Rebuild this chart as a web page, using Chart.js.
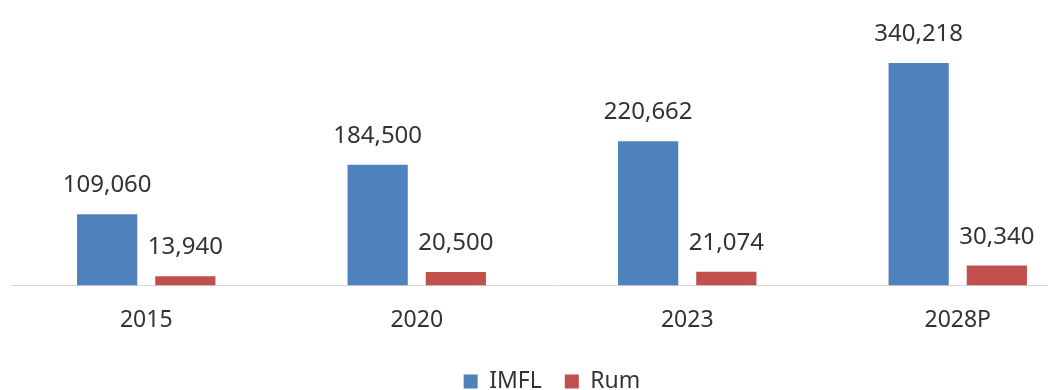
<!DOCTYPE html>
<html>
<head>
<meta charset="utf-8">
<script src="https://cdn.jsdelivr.net/npm/chart.js@4.4.1/dist/chart.umd.min.js"></script>
<style>
  html, body { margin: 0; padding: 0; background: #fff; overflow: hidden; }
  #wrap { position: relative; width: 1100px; height: 403px; }
</style>
</head>
<body>
<div id="wrap"><canvas id="chart"></canvas></div>
<script>
var years = ["2015", "2020", "2023", "2028P"];
var imfl = [109060, 184500, 220662, 340218];
var rum = [13940, 20500, 21074, 30340];

var textColor = "#333333";
var fontFamily = "'Noto Sans', 'Open Sans', sans-serif";

// writes each bar's value above it
var valueLabels = {
    id: "valueLabels",
    afterDatasetsDraw: function (chart) {
        var ctx = chart.ctx;
        ctx.save();
        ctx.font = "24px " + fontFamily;
        ctx.fillStyle = textColor;
        ctx.textAlign = "center";
        ctx.textBaseline = "alphabetic";
        chart.data.datasets.forEach(function (ds, i) {
            chart.getDatasetMeta(i).data.forEach(function (bar, j) {
                ctx.fillText(ds.data[j].toLocaleString("en-US"), bar.x, bar.y - 22);
            });
        });
        ctx.restore();
    }
};

new Chart(document.getElementById("chart"), {
    type: "bar",
    data: {
        labels: years,
        datasets: [
            { label: "IMFL", data: imfl, backgroundColor: "#4F81BD", categoryPercentage: 0.578, barPercentage: 0.77 },
            { label: "Rum", data: rum, backgroundColor: "#C0504D", categoryPercentage: 0.578, barPercentage: 0.77 }
        ]
    },
    options: {
        responsive: true,
        maintainAspectRatio: false,
        animation: false,
        events: [],
        layout: { padding: { left: 11, right: 7, top: 24, bottom: 0 } },
        scales: {
            x: {
                grid: { display: false },
                border: { display: true, color: "#d9d9d9", width: 1 },
                ticks: { color: textColor, font: { family: fontFamily, size: 23 }, padding: 13 }
            },
            y: {
                display: false,
                min: 0,
                max: 400000
            }
        },
        plugins: {
            legend: {
                position: "bottom",
                labels: {
                    color: textColor,
                    font: { family: fontFamily, size: 23 },
                    boxWidth: 14,
                    boxHeight: 14,
                    padding: 23
                }
            },
            tooltip: { enabled: false }
        }
    },
    plugins: [valueLabels]
});
</script>
</body>
</html>
